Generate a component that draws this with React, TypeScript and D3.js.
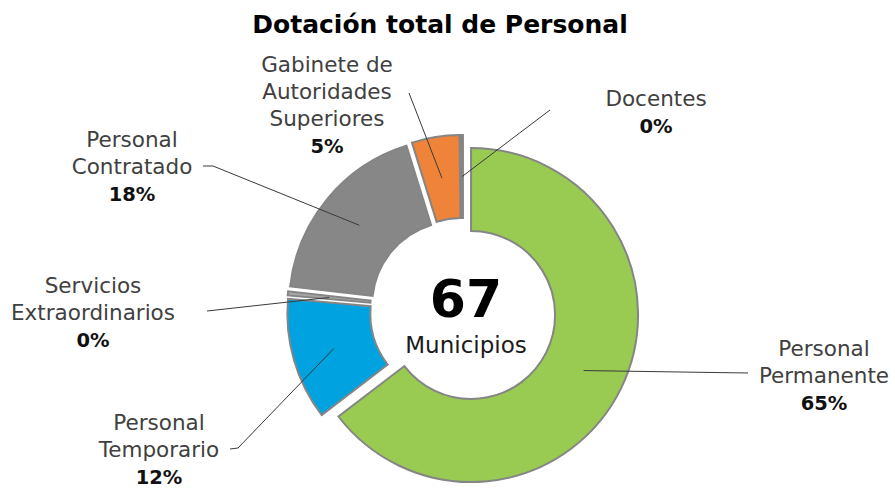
// App.tsx
import React, { useRef, useEffect } from 'react';
import * as d3 from 'd3';

// Datos
const categories = [
  'Personal Permanente',
  'Personal Temporario',
  'Servicios Extraordinarios',
  'Personal Contratado',
  'Gabinete de Autoridades Superiores',
  'Docentes',
];
const shares = [64.6, 11.8, 0.4, 18.4, 4.6, 0.2];
const percentLabels = ['65%', '12%', '0%', '18%', '5%', '0%'];
const colors = ['#99CB52', '#00A3E0', '#A6A6A6', '#878787', '#F0833A', '#7F7F7F'];
const totalMunicipios = 67;

// Posición de las etiquetas (líneas de texto, ancla del texto, quiebre de la guía)
const labelLayout = [
  { lines: ['Personal', 'Permanente'], x: 824, y: 356, path: [[748, 373]] },
  { lines: ['Personal', 'Temporario'], x: 159, y: 430, path: [[230, 449], [238, 448]] },
  { lines: ['Servicios', 'Extraordinarios'], x: 93, y: 293, path: [[207, 311]] },
  { lines: ['Personal', 'Contratado'], x: 132, y: 147, path: [[203, 166], [213, 166]] },
  { lines: ['Gabinete de', 'Autoridades', 'Superiores'], x: 327, y: 72, path: [[409, 93]] },
  { lines: ['Docentes'], x: 656, y: 106, path: [[550, 110]] },
];

const width = 895;
const height = 488;

const App = () => {
  const svgRef = useRef<SVGSVGElement>(null);

  useEffect(() => {
    const svg = d3.select(svgRef.current);
    svg.selectAll('*').remove();

    const cx = 463;
    const cy = 311;
    const outerR = 167;
    const innerR = 84;
    const explode = 9;
    const font = '"DejaVu Sans", Verdana, sans-serif';

    svg.append('text')
      .attr('x', 440)
      .attr('y', 33)
      .attr('text-anchor', 'middle')
      .attr('font-family', font)
      .attr('font-weight', 'bold')
      .attr('font-size', 25)
      .attr('fill', '#000')
      .text('Dotación total de Personal');

    const pie = d3.pie<number>().sort(null).value(d => d);
    const arcs = pie(shares);
    const arc = d3.arc<d3.PieArcDatum<number>>()
      .innerRadius(innerR)
      .outerRadius(outerR);

    const g = svg.append('g').attr('transform', `translate(${cx},${cy})`);

    const offset = (d: d3.PieArcDatum<number>) => {
      const mid = (d.startAngle + d.endAngle) / 2;
      return [explode * Math.sin(mid), -explode * Math.cos(mid)];
    };

    g.selectAll('path.slice')
      .data(arcs)
      .enter()
      .append('path')
      .attr('class', 'slice')
      .attr('transform', d => {
        const [dx, dy] = offset(d);
        return `translate(${dx},${dy})`;
      })
      .attr('d', arc)
      .attr('fill', (d, i) => colors[i])
      .attr('stroke', '#858585')
      .attr('stroke-width', 2)
      .attr('stroke-linejoin', 'miter');

    // guías
    arcs.forEach((d, i) => {
      const [dx, dy] = offset(d);
      const [ax, ay] = arc.centroid(d);
      const end: [number, number] = [cx + dx + ax, cy + dy + ay];
      const pts = [...labelLayout[i].path, end] as [number, number][];
      svg.append('path')
        .attr('d', d3.line()(pts))
        .attr('fill', 'none')
        .attr('stroke', '#3a3a3a')
        .attr('stroke-width', 1);
    });

    // etiquetas
    labelLayout.forEach((l, i) => {
      const t = svg.append('text')
        .attr('text-anchor', 'middle')
        .attr('font-family', font);
      l.lines.forEach((line, j) => {
        t.append('tspan')
          .attr('x', l.x)
          .attr('y', l.y + j * 27)
          .attr('font-size', 21.5)
          .attr('fill', '#404040')
          .text(line);
      });
      t.append('tspan')
        .attr('x', l.x)
        .attr('y', l.y + l.lines.length * 27)
        .attr('font-size', 19.5)
        .attr('font-weight', 'bold')
        .attr('fill', '#111')
        .text(percentLabels[i]);
    });

    // centro
    svg.append('text')
      .attr('x', 466)
      .attr('y', 317)
      .attr('text-anchor', 'middle')
      .attr('font-family', font)
      .attr('font-weight', 'bold')
      .attr('font-size', 52)
      .attr('fill', '#000')
      .text(totalMunicipios);

    svg.append('text')
      .attr('x', 466)
      .attr('y', 353)
      .attr('text-anchor', 'middle')
      .attr('font-family', font)
      .attr('font-size', 23)
      .attr('fill', '#1a1a1a')
      .text('Municipios');

    svg.attr('width', width).attr('height', height);
  }, []);

  return (
    <svg
      ref={svgRef}
      style={{ position: 'absolute', left: 0, top: 0, background: '#fff' }}
      aria-label={categories.join(', ')}
    />
  );
};

export default App;
